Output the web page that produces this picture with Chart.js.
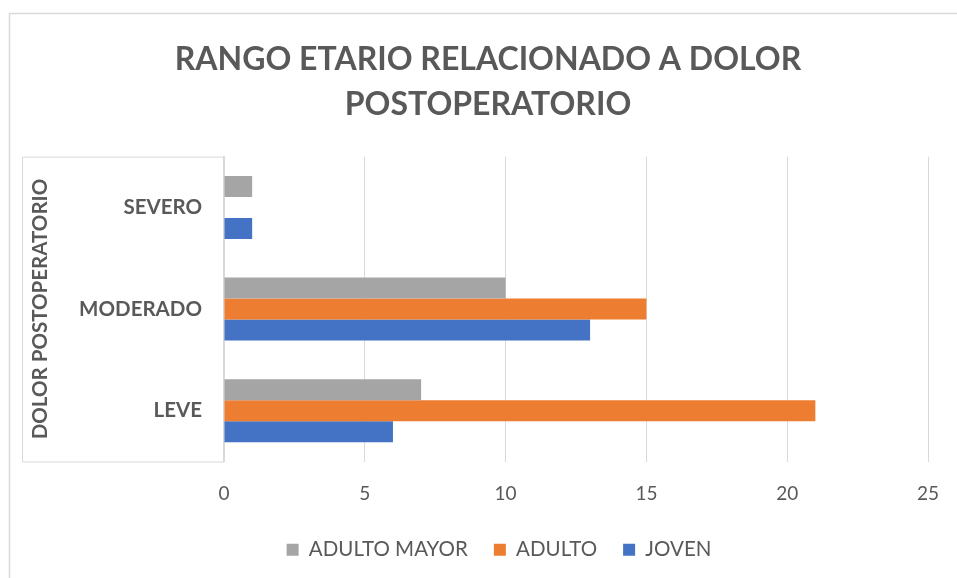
<!DOCTYPE html>
<html>
<head>
<meta charset="utf-8">
<title>Rango etario relacionado a dolor postoperatorio</title>
<script src="https://cdn.jsdelivr.net/npm/chart.js@4.4.1/dist/chart.umd.min.js"></script>
<style>
  html, body { margin: 0; padding: 0; background: #fff; }
  #wrap { width: 957px; height: 578px; position: relative; }
</style>
</head>
<body>
<div id="wrap"><canvas id="chart" width="957" height="578"></canvas></div>
<script>
// ---- DATA ----
const categories = ['SEVERO', 'MODERADO', 'LEVE'];
const adultoMayor = [1, 10, 7];
const adulto      = [0, 15, 21];
const joven       = [1, 13, 6];
const xTicks      = [0, 5, 10, 15, 20, 25];

const TEXT = '#595959';
const LINE = '#d9d9d9';
const FONT = 'Lato, "Open Sans", sans-serif';

// frame lines + the box around the category labels
const framePlugin = {
  id: 'frame',
  afterLayout(chart) {
    // title and legend in the reference sit a bit right of centre
    chart.legend.left += 24;
    chart.legend.right += 24;
    chart.titleBlock.left += 13;
    chart.titleBlock.right += 13;
  },
  beforeDraw(chart) {
    const c = chart.ctx;
    const a = chart.chartArea;
    c.save();
    c.strokeStyle = LINE;
    c.lineWidth = 1.5;
    c.beginPath();
    c.moveTo(9.5, chart.height);
    c.lineTo(9.5, 13.5);
    c.lineTo(chart.width, 13.5);
    c.stroke();
    c.lineWidth = 1;
    c.beginPath();
    c.moveTo(a.left, a.top + 0.5);
    c.lineTo(22.5, a.top + 0.5);
    c.lineTo(22.5, a.bottom + 0.5);
    c.lineTo(a.left, a.bottom + 0.5);
    c.stroke();
    c.restore();
  }
};

const ctx = document.getElementById('chart').getContext('2d');
const chart = new Chart(ctx, {
  type: 'bar',
  data: {
    labels: categories,
    datasets: [
      { label: 'ADULTO MAYOR', data: adultoMayor, backgroundColor: '#A5A5A5' },
      { label: 'ADULTO',       data: adulto,      backgroundColor: '#ED7D31' },
      { label: 'JOVEN',        data: joven,       backgroundColor: '#4472C4' }
    ]
  },
  options: {
    indexAxis: 'y',
    responsive: false,
    animation: false,
    datasets: { bar: { categoryPercentage: 0.62, barPercentage: 1 } },
    layout: { padding: { left: 22, right: 29, top: 0, bottom: 8 } },
    scales: {
      x: {
        min: 0, max: 25,
        afterBuildTicks: s => { s.ticks = xTicks.map(v => ({ value: v })); },
        afterFit: s => { s.height = 52; s.paddingLeft = 0; s.paddingRight = 0; },
        grid: { color: LINE, lineWidth: 1, drawTicks: false },
        border: { display: false },
        ticks: { color: TEXT, font: { family: FONT, size: 19 }, padding: 21 }
      },
      y: {
        afterFit: s => { s.width = 202; },
        grid: { display: false, drawTicks: false },
        border: { display: true, color: LINE, width: 1.5 },
        ticks: { color: TEXT, font: { family: FONT, size: 20.5, weight: 'bold' }, padding: 22 },
        title: {
          display: true,
          text: 'DOLOR POSTOPERATORIO',
          color: TEXT,
          font: { family: FONT, size: 20.5, weight: 'bold' },
          padding: { top: 6, bottom: 0 }
        }
      }
    },
    plugins: {
      title: {
        display: true,
        text: ['RANGO ETARIO RELACIONADO A DOLOR', 'POSTOPERATORIO'],
        color: TEXT,
        font: { family: FONT, size: 32, weight: 'bold', lineHeight: 1.4 },
        padding: { top: 37, bottom: 30 }
      },
      legend: {
        position: 'bottom',
        labels: {
          color: TEXT,
          font: { family: FONT, size: 20.5 },
          boxWidth: 12, boxHeight: 12,
          padding: 26
        }
      },
      tooltip: { enabled: false }
    }
  },
  plugins: [framePlugin]
});
</script>
</body>
</html>
